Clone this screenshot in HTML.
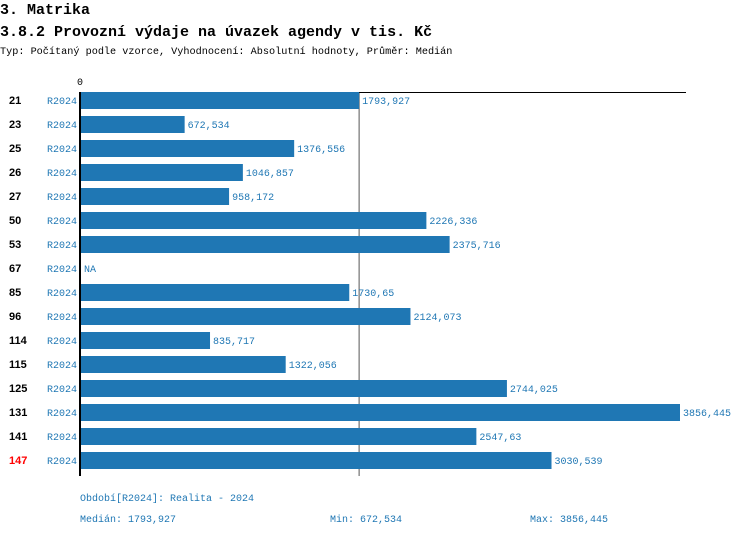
<!DOCTYPE html>
<html><head><meta charset="utf-8"><style>
body{margin:0;background:#fff;width:750px;height:536px;overflow:hidden;font-family:"Liberation Mono",monospace}
</style></head><body>
<svg width="750" height="536" xmlns="http://www.w3.org/2000/svg">
<text x="0" y="14" font-family="Liberation Mono" font-weight="bold" font-size="15">3. Matrika</text>
<text x="0" y="36" font-family="Liberation Mono" font-weight="bold" font-size="15">3.8.2 Provozní výdaje na úvazek agendy v tis. Kč</text>
<text x="0" y="54" font-family="Liberation Mono" font-size="10.2">Typ: Počítaný podle vzorce, Vyhodnocení: Absolutní hodnoty, Průměr: Medián</text>
<g id="plot"></g>
<text x="80" y="501" fill="#1f77b4" font-size="10">Období[R2024]: Realita - 2024</text>
<text x="80" y="522" fill="#1f77b4" font-size="10">Medián: 1793,927</text>
<text x="330" y="522" fill="#1f77b4" font-size="10">Min: 672,534</text>
<text x="530" y="522" fill="#1f77b4" font-size="10">Max: 3856,445</text>
</svg>
<script>
const categories=["21","23","25","26","27","50","53","67","85","96","114","115","125","131","141","147"];
const values=[1793.927,672.534,1376.556,1046.857,958.172,2226.336,2375.716,null,1730.65,2124.073,835.717,1322.056,2744.025,3856.445,2547.63,3030.539];
const labels=["1793,927","672,534","1376,556","1046,857","958,172","2226,336","2375,716","NA","1730,65","2124,073","835,717","1322,056","2744,025","3856,445","2547,63","3030,539"];
const highlight=["147"];
const median=1793.927;
const NS="http://www.w3.org/2000/svg";
const g=document.getElementById('plot');
const maxV=Math.max(...values.filter(v=>v!=null));
const x=v=>80+v*(600/maxV);
const y=i=>100+i*24;
function mk(t,a){const e=document.createElementNS(NS,t);for(const k in a)e.setAttribute(k,a[k]);g.appendChild(e);return e;}
let e;
e=mk('line',{x1:x(median),x2:x(median),y1:92,y2:476,stroke:'#555','stroke-width':1});


e=mk('line',{x1:80,x2:686,y1:92.5,y2:92.5,stroke:'#000','stroke-width':1});


e=mk('text',{x:77,y:85,'font-size':10});e.textContent='0';


categories.forEach((c,i)=>{
  const cy=y(i);
  e=mk('text',{x:9,y:cy+4,'font-family':'Liberation Sans','font-weight':'bold','font-size':11,fill:highlight.includes(c)?'#ff0000':'#000'});e.textContent=c;
  
  
  e=mk('text',{x:47,y:cy+4,'font-size':10,fill:'#1f77b4'});e.textContent='R2024';
  
  
  const v=values[i];
  let end=81;
  if(v!=null){
    e=mk('rect',{x:80,y:cy-8,width:x(v)-80,height:17,fill:'#1f77b4'});
    
    
    end=x(v);
  }
  e=mk('text',{x:end+3,y:cy+4,'font-size':10,fill:'#1f77b4'});e.textContent=labels[i];
  
  
});
e=mk('line',{x1:80,x2:80,y1:92,y2:476,stroke:'#000','stroke-width':2});


</script>
</body></html>
